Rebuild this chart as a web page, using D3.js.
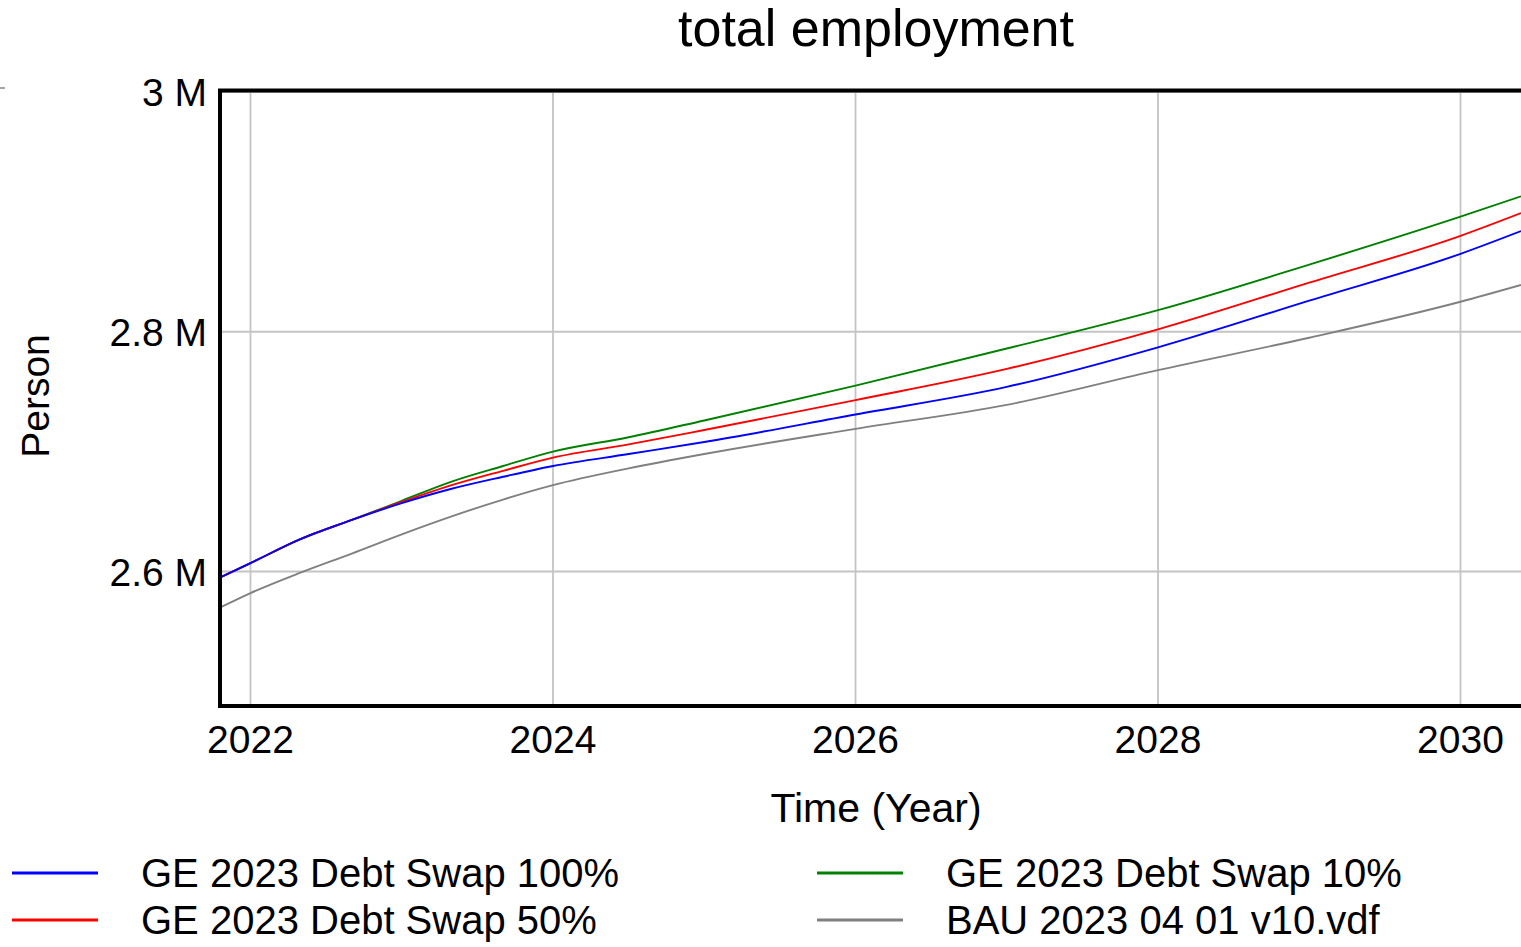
<!DOCTYPE html>
<html>
<head>
<meta charset="utf-8">
<script src="https://cdn.jsdelivr.net/npm/d3@7"></script>
<style>
  html, body { margin: 0; padding: 0; background: #fff; overflow: hidden; }
  svg { display: block; font-family: "Liberation Sans", Arial, sans-serif; }
</style>
</head>
<body>
<svg id="chart" width="1521" height="947"></svg>
<script>
// ---- data (values in millions of persons) ----
const years = [2021.8, 2022, 2022.33, 2022.67, 2023, 2023.33, 2023.67, 2024, 2024.5, 2025, 2026, 2027, 2028, 2029, 2030, 2030.4];
const swap100 = [2.595, 2.607, 2.627, 2.643, 2.657, 2.669, 2.679, 2.688, 2.698, 2.708, 2.731, 2.754, 2.787, 2.826, 2.865, 2.884];
const swap50  = [2.595, 2.607, 2.627, 2.643, 2.658, 2.672, 2.684, 2.695, 2.706, 2.718, 2.743, 2.769, 2.802, 2.841, 2.880, 2.899];
const swap10  = [2.595, 2.607, 2.627, 2.643, 2.659, 2.675, 2.688, 2.700, 2.712, 2.726, 2.755, 2.786, 2.818, 2.856, 2.896, 2.913];
const bau     = [2.570, 2.582, 2.599, 2.615, 2.631, 2.646, 2.660, 2.672, 2.686, 2.698, 2.719, 2.739, 2.768, 2.795, 2.825, 2.839];

const seriesNames = ["GE 2023 Debt Swap 100%", "GE 2023 Debt Swap 50%", "GE 2023 Debt Swap 10%", "BAU 2023 04 01 v10.vdf"];
const seriesColors = ["#0000ff", "#ff0000", "#008000", "#808080"];
const seriesValues = [swap100, swap50, swap10, bau];

const xTicks = [2022, 2024, 2026, 2028, 2030];
const yTicks = [2.6, 2.8, 3.0];
const yTickLabels = ["2.6 M", "2.8 M", "3 M"];

const title = "total employment";
const xTitle = "Time (Year)";
const yTitle = "Person";

// ---- layout ----
const svg = d3.select("#chart");
const plot = { left: 220, top: 90.5, right: 1545, bottom: 706 };

const x = d3.scaleLinear().domain([2022, 2030]).range([250.5, 1460.5]);
const y = d3.scaleLinear().domain([2.6, 3.0]).range([571.5, 92]);

// clip
svg.append("defs").append("clipPath").attr("id", "clip")
  .append("rect").attr("x", plot.left).attr("y", plot.top)
  .attr("width", plot.right - plot.left).attr("height", plot.bottom - plot.top);

// gridlines
const grid = svg.append("g").attr("clip-path", "url(#clip)");
grid.selectAll("line.vg").data(xTicks).enter().append("line")
  .attr("x1", d => x(d)).attr("x2", d => x(d))
  .attr("y1", plot.top).attr("y2", plot.bottom)
  .attr("stroke", "#c4c4c4").attr("stroke-width", 1.8);
grid.selectAll("line.hg").data(yTicks).enter().append("line")
  .attr("x1", plot.left).attr("x2", plot.right)
  .attr("y1", d => y(d)).attr("y2", d => y(d))
  .attr("stroke", "#c4c4c4").attr("stroke-width", 1.8);

// lines
const line = d3.line().x(d => x(d[0])).y(d => y(d[1])).curve(d3.curveMonotoneX);
const linesG = svg.append("g").attr("clip-path", "url(#clip)");
seriesValues.slice().reverse().forEach((vals, ri) => {
  const i = seriesValues.length - 1 - ri;
  linesG.append("path")
    .datum(years.map((t, k) => [t, vals[k]]))
    .attr("d", line)
    .attr("fill", "none")
    .attr("stroke", seriesColors[i])
    .attr("stroke-width", 1.9);
});

// frame
svg.append("rect")
  .attr("x", plot.left).attr("y", plot.top)
  .attr("width", plot.right - plot.left).attr("height", plot.bottom - plot.top)
  .attr("fill", "none").attr("stroke", "#000").attr("stroke-width", 4);

// y tick labels
svg.selectAll("text.yt").data(yTicks).enter().append("text")
  .attr("x", 207).attr("y", d => y(d) + 4)
  .attr("text-anchor", "end").attr("dominant-baseline", "middle")
  .attr("font-size", 39).attr("fill", "#000")
  .text((d, i) => yTickLabels[i]);

// x tick labels
svg.selectAll("text.xt").data(xTicks).enter().append("text")
  .attr("x", d => x(d)).attr("y", 753)
  .attr("text-anchor", "middle")
  .attr("font-size", 39).attr("fill", "#000")
  .text(d => d);

// titles
svg.append("text").attr("x", 876).attr("y", 46)
  .attr("text-anchor", "middle").attr("font-size", 52).attr("fill", "#000").text(title);
svg.append("text").attr("x", 876).attr("y", 822)
  .attr("text-anchor", "middle").attr("font-size", 41).attr("fill", "#000").text(xTitle);
svg.append("text")
  .attr("transform", "translate(49,396) rotate(-90)")
  .attr("text-anchor", "middle").attr("font-size", 39).attr("fill", "#000").text(yTitle);

// small mark top-left
svg.append("line").attr("x1", 0).attr("x2", 5).attr("y1", 88).attr("y2", 88)
  .attr("stroke", "#888").attr("stroke-width", 1.5);

// legend
const legendPos = [
  { lx: 12, tx: 141, y: 873 },
  { lx: 12, tx: 141, y: 920 },
  { lx: 817, tx: 946, y: 873 },
  { lx: 817, tx: 946, y: 920 }
];
const lg = svg.append("g");
seriesNames.forEach((name, i) => {
  const p = legendPos[i];
  lg.append("line").attr("x1", p.lx).attr("x2", p.lx + 86)
    .attr("y1", p.y).attr("y2", p.y)
    .attr("stroke", seriesColors[i]).attr("stroke-width", 3);
  lg.append("text").attr("x", p.tx).attr("y", p.y + 14)
    .attr("font-size", 40).attr("fill", "#000").text(name);
});
</script>
</body>
</html>
